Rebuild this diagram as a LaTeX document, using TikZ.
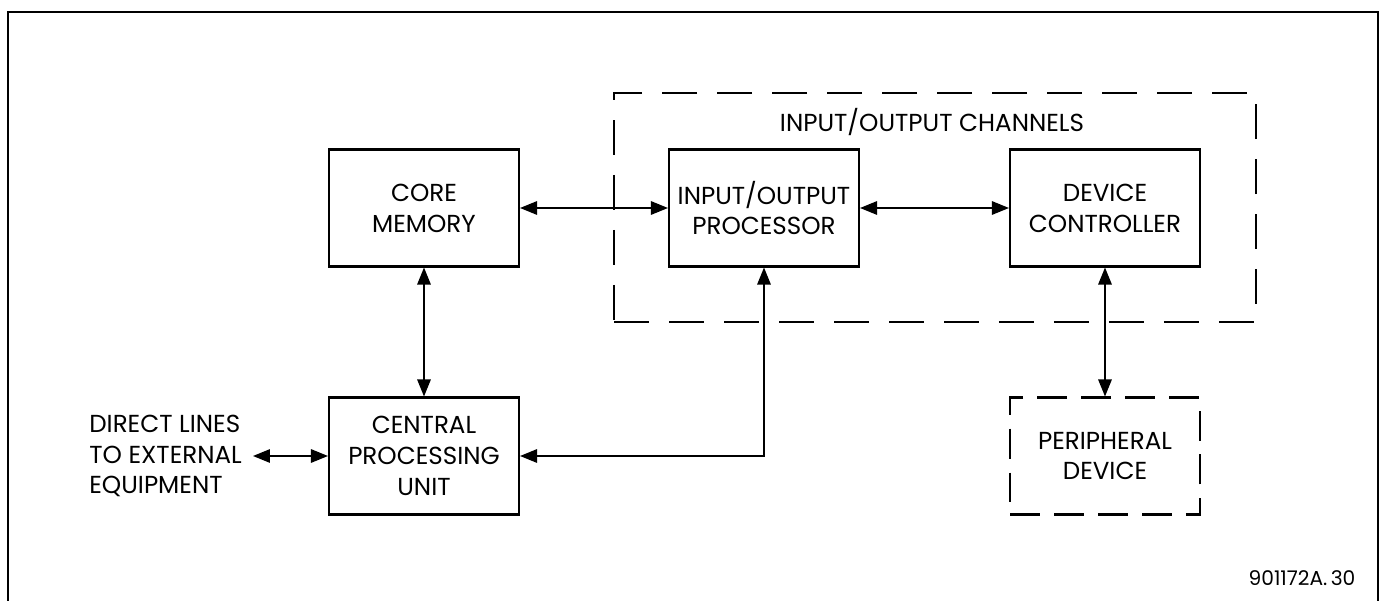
\documentclass[tikz,border=0pt]{standalone}
\usepackage{fontspec}
\setmainfont{Poppins}
\usetikzlibrary{arrows.meta}

\begin{document}
\begin{tikzpicture}[
    x=0.02cm, y=-0.02cm,
    >={Triangle[length=3.4mm, width=2.7mm]},
    unit/.style={rectangle, draw=black, line width=1.2pt, minimum width=3.8cm,
        minimum height=2.34cm, inner sep=0pt, align=center, font=\labelfont},
    unitdash/.style={unit, dash pattern=on 0.6cm off 0.28cm},
    groupbox/.style={rectangle, draw=black, line width=1.2pt,
        dash pattern=on 0.7cm off 0.4cm, inner sep=0pt},
    lbl/.style={font=\labelfont, inner sep=0pt},
    link/.style={<->, line width=0.8pt}
]
\newcommand{\labelfont}{\fontsize{14}{17.6}\selectfont}

\useasboundingbox (0,0) rectangle (1380,601);

% --- Marco exterior ---
\draw[line width=1.3pt] (8,601) -- (8,12) -- (1378,12) -- (1378,601);

% --- Canales de E/S ---
\node[groupbox, minimum width=12.84cm, minimum height=4.58cm] (channels) at (935,207.5) {};
\node[lbl] (chanlabel) at (932,122) {INPUT/OUTPUT CHANNELS};

% --- Bloques ---
\node[unit] (core) at (424,208) {CORE\\MEMORY};
\node[unit] (iop) at (764,208) {INPUT/OUTPUT\\PROCESSOR};
\node[unit] (dc) at (1105,208) {DEVICE\\CONTROLLER};
\node[unit] (cpu) at (424,456) {CENTRAL\\PROCESSING\\UNIT};
\node[unitdash] (periph) at (1105,456) {PERIPHERAL\\DEVICE};

\node[lbl, anchor=west, align=left] (direct) at (89,456) {DIRECT LINES\\TO EXTERNAL\\EQUIPMENT};
\coordinate (ext) at (253,456);

\node[lbl, font=\fontsize{11.5}{13}\selectfont] (figno) at (1302,578) {901172A.\,30};

% --- Conexiones ---
\draw[link] (core.east) -- (iop.west);
\draw[link] (iop.east) -- (dc.west);
\draw[link] (core.south) -- (cpu.north);
\draw[link] (dc.south) -- (periph.north);
\draw[link] (iop.south) |- (cpu.east);
\draw[link] (ext) -- (cpu.west);

\end{tikzpicture}
\end{document}
